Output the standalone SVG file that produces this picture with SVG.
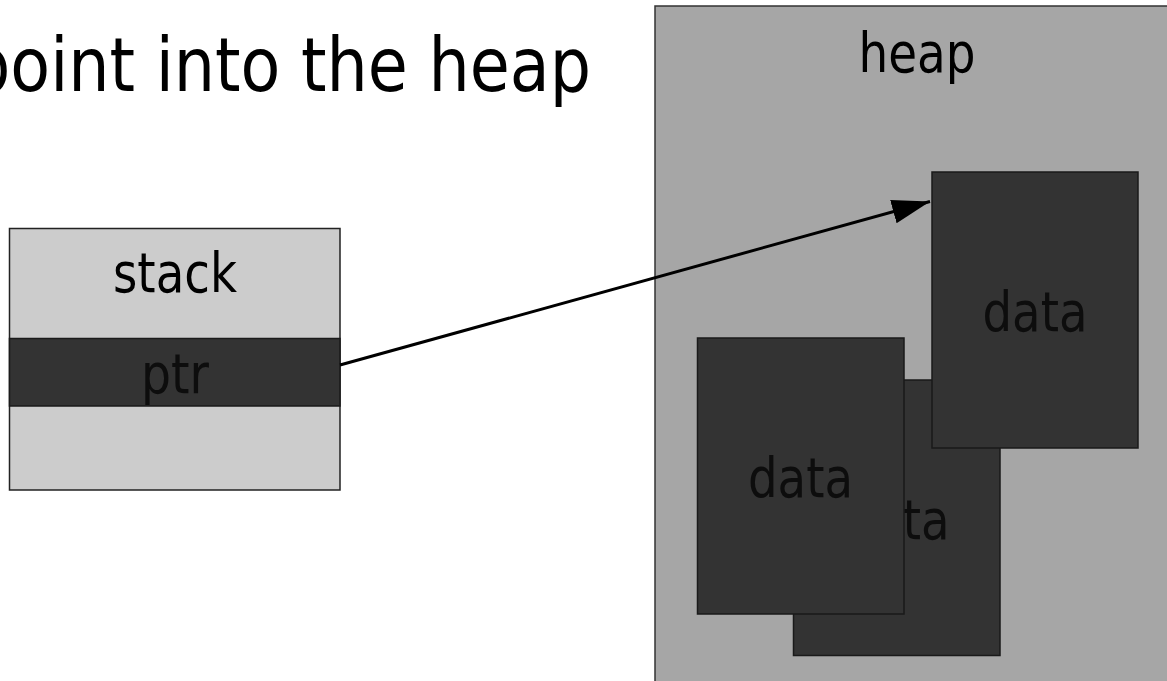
<svg xmlns="http://www.w3.org/2000/svg" width="1167" height="681" viewBox="0 0 1167 681">
<style>
text{font-family:"DejaVu Sans","Liberation Sans",sans-serif;fill:#000}
.lbl{font-size:55px;text-anchor:middle;lengthAdjust:spacingAndGlyphs}
.data{fill:#333333;stroke:#1a1a1a;stroke-width:1.5}
.dtxt{fill:#0d0d0d}
</style>
<defs>
<marker id="ah" markerUnits="userSpaceOnUse" markerWidth="40" markerHeight="26" refX="38" refY="12" orient="auto">
<path d="M0,0 L38,12 L0,24 Z" fill="#000"/>
</marker>
</defs>
<rect x="0" y="0" width="1167" height="681" fill="#ffffff"/>
<text id="title" x="-31" y="91" font-size="74" textLength="622" lengthAdjust="spacingAndGlyphs">point into the heap</text>
<g id="heap">
<rect x="655" y="6" width="560" height="720" fill="#a6a6a6" stroke="#333333" stroke-width="1.5"/>
<text class="lbl" x="917" y="72" textLength="117" lengthAdjust="spacingAndGlyphs">heap</text>
</g>
<g id="data-back">
<rect class="data" x="793.5" y="380" width="206.5" height="275.5"/>
<text class="lbl dtxt" x="897" y="539" textLength="105" lengthAdjust="spacingAndGlyphs">data</text>
</g>
<g id="data-front">
<rect class="data" x="697.5" y="338" width="206.5" height="276"/>
<text class="lbl dtxt" x="800.5" y="497" textLength="105" lengthAdjust="spacingAndGlyphs">data</text>
</g>
<g id="data-top">
<rect class="data" x="932" y="172" width="206" height="276"/>
<text class="lbl dtxt" x="1035" y="331" textLength="105" lengthAdjust="spacingAndGlyphs">data</text>
</g>
<g id="stack">
<rect x="9.5" y="228.5" width="330.5" height="261.5" fill="#cccccc" stroke="#222222" stroke-width="1.5"/>
<rect x="9.5" y="338.5" width="330.5" height="67.5" fill="#333333" stroke="#1a1a1a" stroke-width="1.5"/>
<text class="lbl" x="175" y="292" textLength="124" lengthAdjust="spacingAndGlyphs">stack</text>
<text class="lbl dtxt" x="175" y="393" textLength="68" lengthAdjust="spacingAndGlyphs">ptr</text>
</g>
<g id="connectors">
<line x1="340" y1="365" x2="930" y2="201.5" stroke="#000" stroke-width="3" marker-end="url(#ah)"/>
</g>
</svg>
